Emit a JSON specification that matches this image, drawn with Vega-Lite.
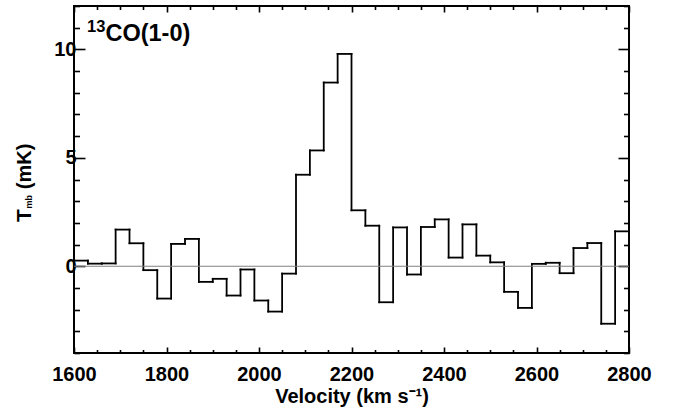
{
  "$schema": "https://vega.github.io/schema/vega-lite/v6.json",
  "width": 555,
  "height": 347,
  "autosize": "none",
  "padding": {"left": 74, "top": 6, "right": 46, "bottom": 57},
  "background": "white",
  "config": {
    "view": {"stroke": "black", "strokeWidth": 2},
    "font": "Liberation Sans",
    "axis": {
      "grid": false,
      "domain": false,
      "tickColor": "black",
      "tickWidth": 1.6,
      "labelColor": "black",
      "labelFont": "Liberation Sans",
      "labelFontSize": 20,
      "labelFontWeight": "bold",
      "labelFlush": false,
      "titleColor": "black",
      "titleFont": "Liberation Sans",
      "titleFontSize": 20,
      "titleFontWeight": "bold"
    },
    "text": {"font": "Liberation Sans", "fontWeight": "bold", "color": "black", "baseline": "alphabetic", "align": "left"}
  },
  "datasets": {
    "spec": [
      {"v0": 1600, "v1": 1630, "T": 0.26},
      {"v0": 1630, "v1": 1660, "T": 0.12},
      {"v0": 1660, "v1": 1690, "T": 0.13},
      {"v0": 1690, "v1": 1720, "T": 1.69},
      {"v0": 1720, "v1": 1750, "T": 1.06},
      {"v0": 1750, "v1": 1780, "T": -0.18},
      {"v0": 1780, "v1": 1810, "T": -1.49},
      {"v0": 1810, "v1": 1840, "T": 1.03},
      {"v0": 1840, "v1": 1870, "T": 1.26},
      {"v0": 1870, "v1": 1900, "T": -0.72},
      {"v0": 1900, "v1": 1930, "T": -0.58},
      {"v0": 1930, "v1": 1960, "T": -1.35},
      {"v0": 1960, "v1": 1990, "T": -0.15},
      {"v0": 1990, "v1": 2020, "T": -1.58},
      {"v0": 2020, "v1": 2050, "T": -2.09},
      {"v0": 2050, "v1": 2080, "T": -0.34},
      {"v0": 2080, "v1": 2110, "T": 4.22},
      {"v0": 2110, "v1": 2140, "T": 5.34},
      {"v0": 2140, "v1": 2170, "T": 8.47},
      {"v0": 2170, "v1": 2200, "T": 9.79},
      {"v0": 2200, "v1": 2230, "T": 2.58},
      {"v0": 2230, "v1": 2260, "T": 1.87},
      {"v0": 2260, "v1": 2290, "T": -1.66},
      {"v0": 2290, "v1": 2320, "T": 1.79},
      {"v0": 2320, "v1": 2350, "T": -0.38},
      {"v0": 2350, "v1": 2380, "T": 1.81},
      {"v0": 2380, "v1": 2410, "T": 2.16},
      {"v0": 2410, "v1": 2440, "T": 0.4},
      {"v0": 2440, "v1": 2470, "T": 1.93},
      {"v0": 2470, "v1": 2500, "T": 0.49},
      {"v0": 2500, "v1": 2530, "T": 0.18},
      {"v0": 2530, "v1": 2560, "T": -1.18},
      {"v0": 2560, "v1": 2590, "T": -1.92},
      {"v0": 2590, "v1": 2620, "T": 0.11},
      {"v0": 2620, "v1": 2650, "T": 0.16},
      {"v0": 2650, "v1": 2680, "T": -0.32},
      {"v0": 2680, "v1": 2710, "T": 0.84},
      {"v0": 2710, "v1": 2740, "T": 1.07},
      {"v0": 2740, "v1": 2770, "T": -2.65},
      {"v0": 2770, "v1": 2800, "T": 1.61}
    ]
  },
  "layer": [
    {
      "data": {"name": "spec"},
      "mark": {"type": "rule", "color": "black", "strokeWidth": 1.8, "strokeCap": "square"},
      "encoding": {
        "x": {
          "field": "v0",
          "type": "quantitative",
          "scale": {"domain": [1600, 2800], "nice": false, "zero": false},
          "axis": {
            "orient": "bottom",
            "values": [1600, 1650, 1700, 1750, 1800, 1850, 1900, 1950, 2000, 2050, 2100, 2150, 2200, 2250, 2300, 2350, 2400, 2450, 2500, 2550, 2600, 2650, 2700, 2750, 2800],
            "tickSize": {"condition": {"test": "datum.value % 200 === 0", "value": -6}, "value": -3.5},
            "labelExpr": "datum.value % 200 === 0 ? '' + datum.value : ''",
            "labelPadding": 17.5,
            "title": "Velocity (km s⁻¹)",
            "titlePadding": 2
          }
        },
        "x2": {"field": "v1"},
        "y": {
          "field": "T",
          "type": "quantitative",
          "scale": {"domain": [-4, 12], "nice": false, "zero": false},
          "axis": {
            "orient": "left",
            "values": [-4, -3, -2, -1, 0, 1, 2, 3, 4, 5, 6, 7, 8, 9, 10, 11, 12],
            "tickSize": {"condition": {"test": "datum.value % 5 === 0", "value": -11}, "value": -5.5},
            "labelExpr": "datum.value % 5 === 0 ? '' + datum.value : ''",
            "labelPadding": 9,
            "title": null
          }
        }
      }
    },
    {
      "data": {"name": "spec"},
      "transform": [
        {"window": [{"op": "lead", "field": "T", "as": "Tn"}], "sort": [{"field": "v0"}]},
        {"filter": "datum.Tn != null"}
      ],
      "mark": {"type": "rule", "color": "black", "strokeWidth": 1.8, "strokeCap": "square"},
      "encoding": {
        "x": {
          "field": "v1",
          "type": "quantitative",
          "scale": {"domain": [1600, 2800], "nice": false, "zero": false},
          "axis": {
            "orient": "top",
            "values": [1600, 1650, 1700, 1750, 1800, 1850, 1900, 1950, 2000, 2050, 2100, 2150, 2200, 2250, 2300, 2350, 2400, 2450, 2500, 2550, 2600, 2650, 2700, 2750, 2800],
            "tickSize": {"condition": {"test": "datum.value % 200 === 0", "value": -6}, "value": -3.5},
            "labels": false,
            "title": null
          }
        },
        "y": {
          "field": "T",
          "type": "quantitative",
          "scale": {"domain": [-4, 12], "nice": false, "zero": false},
          "axis": {
            "orient": "right",
            "values": [-4, -3, -2, -1, 0, 1, 2, 3, 4, 5, 6, 7, 8, 9, 10, 11, 12],
            "tickSize": {"condition": {"test": "datum.value % 5 === 0", "value": -11}, "value": -5.5},
            "labels": false,
            "title": null
          }
        },
        "y2": {"field": "Tn"}
      }
    },
    {
      "data": {"values": [{"y": 0}]},
      "mark": {"type": "rule", "color": "#808080", "strokeWidth": 1.2},
      "encoding": {
        "y": {"field": "y", "type": "quantitative", "scale": {"domain": [-4, 12], "nice": false, "zero": false}, "axis": null}
      }
    },
    {
      "data": {"values": [{"t": "13", "x": 1628, "y": 10.8}]},
      "mark": {"type": "text", "fontSize": 16.5},
      "encoding": {
        "text": {"field": "t"},
        "x": {"field": "x", "type": "quantitative", "scale": {"domain": [1600, 2800], "nice": false, "zero": false}, "axis": null},
        "y": {"field": "y", "type": "quantitative", "scale": {"domain": [-4, 12], "nice": false, "zero": false}, "axis": null}
      }
    },
    {
      "data": {"values": [{"t": "CO(1-0)", "x": 1668, "y": 10.4}]},
      "mark": {"type": "text", "fontSize": 23.5},
      "encoding": {
        "text": {"field": "t"},
        "x": {"field": "x", "type": "quantitative", "scale": {"domain": [1600, 2800], "nice": false, "zero": false}, "axis": null},
        "y": {"field": "y", "type": "quantitative", "scale": {"domain": [-4, 12], "nice": false, "zero": false}, "axis": null}
      }
    },
    {
      "data": {"values": [{"t": "T", "x": 1506, "y": 2.04}]},
      "mark": {"type": "text", "fontSize": 21, "angle": 270},
      "encoding": {
        "text": {"field": "t"},
        "x": {"field": "x", "type": "quantitative", "scale": {"domain": [1600, 2800], "nice": false, "zero": false}, "axis": null},
        "y": {"field": "y", "type": "quantitative", "scale": {"domain": [-4, 12], "nice": false, "zero": false}, "axis": null}
      }
    },
    {
      "data": {"values": [{"t": "mb", "x": 1508.5, "y": 2.66}]},
      "mark": {"type": "text", "fontSize": 9, "angle": 270},
      "encoding": {
        "text": {"field": "t"},
        "x": {"field": "x", "type": "quantitative", "scale": {"domain": [1600, 2800], "nice": false, "zero": false}, "axis": null},
        "y": {"field": "y", "type": "quantitative", "scale": {"domain": [-4, 12], "nice": false, "zero": false}, "axis": null}
      }
    },
    {
      "data": {"values": [{"t": "(mK)", "x": 1506, "y": 3.55}]},
      "mark": {"type": "text", "fontSize": 20, "angle": 270},
      "encoding": {
        "text": {"field": "t"},
        "x": {"field": "x", "type": "quantitative", "scale": {"domain": [1600, 2800], "nice": false, "zero": false}, "axis": null},
        "y": {"field": "y", "type": "quantitative", "scale": {"domain": [-4, 12], "nice": false, "zero": false}, "axis": null}
      }
    }
  ],
  "resolve": {"axis": {"x": "independent", "y": "independent"}}
}
